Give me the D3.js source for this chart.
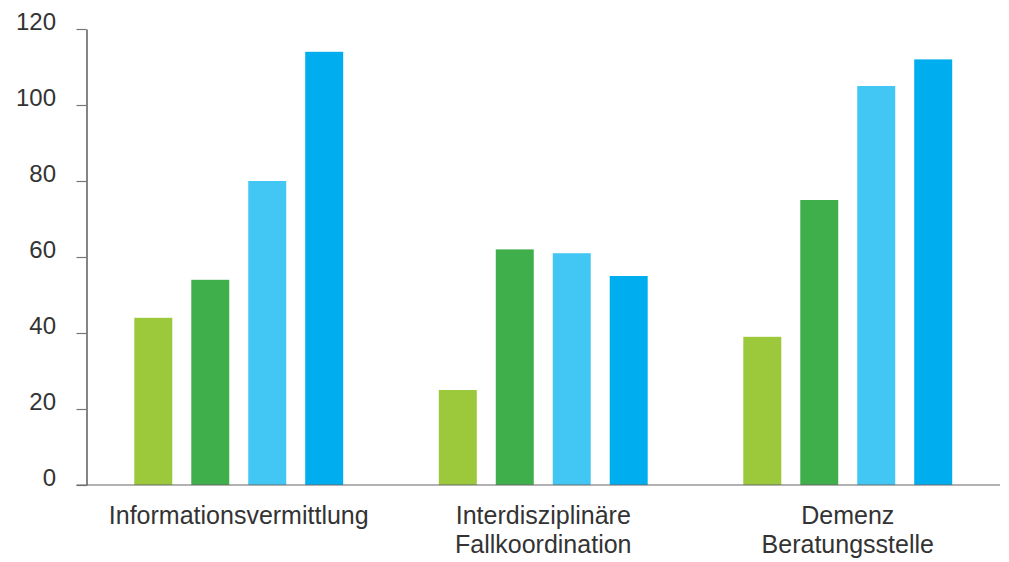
<!DOCTYPE html>
<html>
<head>
<meta charset="utf-8">
<script src="https://cdn.jsdelivr.net/npm/d3@7"></script>
<style>
  body { margin: 0; background: #fff; }
  text { font-family: "Liberation Sans", Arial, sans-serif; fill: #333; }
</style>
</head>
<body>
<div id="chart"></div>
<script>
const categories = [["Informationsvermittlung"], ["Interdisziplinäre", "Fallkoordination"], ["Demenz", "Beratungsstelle"]];
const seriesNames = ["s1", "s2", "s3", "s4"];
const values = [
  [44, 54, 80, 114],
  [25, 62, 61, 55],
  [39, 75, 105, 112]
];
const yTicks = [0, 20, 40, 60, 80, 100, 120];
const colors = ["#9bc93b", "#3faf4c", "#42c7f4", "#00aeef"];

const width = 1009, height = 562;
const margin = { top: 29, right: 9, bottom: 77, left: 86.5 };

const svg = d3.select("#chart").append("svg")
  .attr("width", width)
  .attr("height", height);

const x0 = d3.scaleBand()
  .domain(d3.range(categories.length))
  .range([margin.left, width - margin.right])
  .padding(0);

const inset = 47.8;
const x1 = d3.scaleBand()
  .domain(seriesNames)
  .range([inset, x0.bandwidth() - inset])
  .paddingInner(1 / 3)
  .paddingOuter(0);

const y = d3.scaleLinear()
  .domain([0, 120])
  .range([height - margin.bottom, margin.top]);

// bars
const groups = svg.append("g").selectAll("g")
  .data(values)
  .join("g")
  .attr("transform", (d, i) => `translate(${x0(i)},0)`);

groups.selectAll("rect")
  .data(d => d.map((v, j) => ({ key: seriesNames[j], value: v, j })))
  .join("rect")
  .attr("x", d => x1(d.key))
  .attr("y", d => y(d.value))
  .attr("width", x1.bandwidth())
  .attr("height", d => y(0) - y(d.value))
  .attr("fill", d => colors[d.j]);

// y axis
const yAxis = svg.append("g")
  .attr("transform", `translate(${margin.left},0)`)
  .call(d3.axisLeft(y).tickValues(yTicks).tickSize(10).tickSizeOuter(0).tickPadding(20.5));
yAxis.select(".domain").attr("stroke", "#333").attr("stroke-width", 1.2);
yAxis.selectAll(".tick line").attr("stroke", "#777").attr("stroke-width", 1.2);
yAxis.selectAll(".tick text").attr("font-size", 24).attr("dy", "0.04em")
  .style("font-family", "'Liberation Sans', Arial, sans-serif").attr("fill", "#333");

// x axis line
svg.append("line")
  .attr("x1", margin.left - 10)
  .attr("x2", width - margin.right)
  .attr("y1", y(0))
  .attr("y2", y(0))
  .attr("stroke", "#666")
  .attr("stroke-width", 1.2);

// category labels
const labels = svg.append("g").selectAll("text")
  .data(categories)
  .join("text")
  .attr("x", (d, i) => x0(i) + x0.bandwidth() / 2)
  .attr("y", 524)
  .attr("text-anchor", "middle")
  .attr("font-size", 25);

labels.selectAll("tspan")
  .data(d => d)
  .join("tspan")
  .attr("x", function () { return this.parentNode.getAttribute("x"); })
  .attr("dy", (d, i) => i === 0 ? 0 : 28.5)
  .text(d => d);
</script>
</body>
</html>
